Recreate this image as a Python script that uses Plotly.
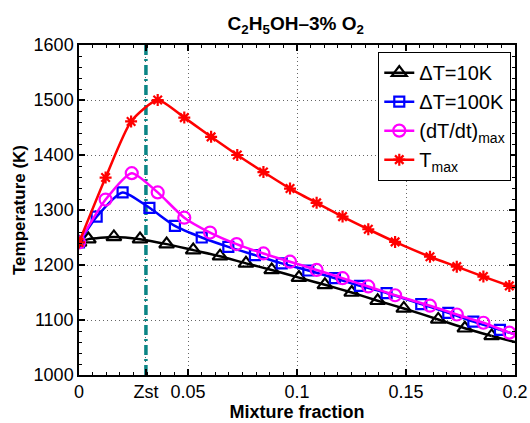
import plotly.graph_objects as go

# ---- data ----
z_dt10 = [0.0, 0.0043, 0.016, 0.028, 0.0402, 0.0524, 0.0647, 0.0766, 0.0884, 0.1009,
          0.1128, 0.1251, 0.137, 0.149, 0.1648, 0.177, 0.1893]
t_dt10 = [1241, 1247, 1251, 1247, 1238, 1227, 1216, 1203, 1191, 1177,
          1164, 1150, 1135, 1121, 1101, 1085, 1071]
t_dt10_end = 1060

z_dt100 = [0.0, 0.0081, 0.020, 0.0323, 0.044, 0.0563, 0.0685, 0.0807, 0.093, 0.1052,
           0.1174, 0.1289, 0.1411, 0.157, 0.1694, 0.1809, 0.1931]
t_dt100 = [1241, 1288, 1332, 1304, 1271, 1250, 1233, 1218, 1203, 1190,
           1176, 1162, 1149, 1129, 1113, 1097, 1082]
t_dt100_end = 1074

z_rate = [0.0, 0.0122, 0.0242, 0.0361, 0.0483, 0.0601, 0.0723, 0.0846, 0.0968, 0.109,
          0.1209, 0.1327, 0.145, 0.161, 0.1733, 0.1855, 0.1974]
t_rate = [1241, 1319, 1367, 1332, 1286, 1259, 1238, 1221, 1206, 1191,
          1176, 1161, 1145, 1126, 1110, 1095, 1077]
t_rate_end = 1074

z_tmax = [0.0, 0.0122, 0.0239, 0.0361, 0.0483, 0.0606, 0.0726, 0.0846, 0.0968, 0.109,
          0.1209, 0.1327, 0.145, 0.161, 0.1733, 0.1855, 0.1974]
t_tmax = [1241, 1359, 1461, 1500, 1468, 1433, 1400, 1369, 1339, 1313,
          1288, 1265, 1242, 1215, 1197, 1179, 1162]
t_tmax_end = 1159

z_end = 0.2
zst = 0.0307

x_tickvals = [0, zst, 0.05, 0.1, 0.15, 0.2]
x_ticktext = ["0", "Zst", "0.05", "0.1", "0.15", "0.2"]
y_tickvals = [1000, 1100, 1200, 1300, 1400, 1500, 1600]

FONT = "Liberation Sans, Arial, Helvetica, sans-serif"

series = [
    ("\u0394T=10K", z_dt10, t_dt10, t_dt10_end, "black", "triangle-up-open", 13),
    ("\u0394T=100K", z_dt100, t_dt100, t_dt100_end, "blue", "square-open", 10),
    ("(dT/dt)<sub>max</sub>", z_rate, t_rate, t_rate_end, "magenta", "circle-open", 12),
    ("T<sub>max</sub>", z_tmax, t_tmax, t_tmax_end, "red", "asterisk-open", 10),
]

fig = go.Figure()

# Zst vertical line
fig.add_trace(go.Scatter(x=[zst, zst], y=[1000, 1600], mode="lines",
                         line=dict(color="#0a8585", width=3.5, dash="10px,4px,2px,4px"),
                         showlegend=False, hoverinfo="skip"))

for name, zx, ty, tend, col, sym, sz in series:
    fig.add_trace(go.Scatter(x=[zx[-1], z_end], y=[ty[-1], tend], mode="lines",
                             line=dict(color=col, width=2.5),
                             showlegend=False, hoverinfo="skip"))
    fig.add_trace(go.Scatter(x=zx, y=ty, mode="lines+markers", name=name,
                             line=dict(color=col, width=2.5, shape="spline", smoothing=0.6),
                             marker=dict(symbol=sym, size=sz, color=col,
                                         line=dict(color=col, width=2.2))))

axis_common = dict(
    showline=True, linecolor="black", linewidth=1.5, mirror="allticks",
    ticks="inside", ticklen=6, tickcolor="black", tickwidth=1.5,
    showgrid=True, gridcolor="rgba(0,0,0,0.6)", griddash="1px,3px", gridwidth=1,
    zeroline=False, automargin=False,
    tickfont=dict(family=FONT, size=18, color="black"),
)

fig.update_xaxes(range=[0, 0.2], tickmode="array", tickvals=x_tickvals, ticktext=x_ticktext,
                 title=dict(text="<b>Mixture fraction</b>", font=dict(family=FONT, size=18, color="black"),
                            standoff=0),
                 ticklabelstandoff=0,
                 minor=dict(tickmode="linear", tick0=0, dtick=0.00625, ticks="inside",
                            ticklen=3, tickcolor="black", tickwidth=1, showgrid=False),
                 **axis_common)
fig.update_yaxes(range=[1000, 1600], tickmode="array", tickvals=y_tickvals,
                 title=dict(text="<b>Temperature (K)</b>", font=dict(family=FONT, size=17, color="black"),
                            standoff=4),
                 minor=dict(tickmode="linear", tick0=1000, dtick=20, ticks="inside",
                            ticklen=3, tickcolor="black", tickwidth=1, showgrid=False),
                 **axis_common)

fig.update_layout(
    width=530, height=423,
    margin=dict(l=79, r=15, t=45, b=48, autoexpand=False),
    paper_bgcolor="white", plot_bgcolor="white",
    font=dict(family=FONT, size=18, color="black"),
    title=dict(text="<b>C<sub>2</sub>H<sub>5</sub>OH\u20133% O<sub>2</sub></b>",
               x=0.558, xanchor="center", y=0.945, yanchor="middle",
               font=dict(family=FONT, size=19, color="black")),
    legend=dict(x=0.991, y=0.979, xanchor="right", yanchor="top",
                bgcolor="white", bordercolor="black", borderwidth=1.2,
                font=dict(family=FONT, size=20, color="black"),
                tracegroupgap=0, itemwidth=30),
    showlegend=True,
)

fig.write_html("out.html", config={"displayModeBar": False},
               post_script="document.body.style.margin='0';document.body.style.padding='0';")
